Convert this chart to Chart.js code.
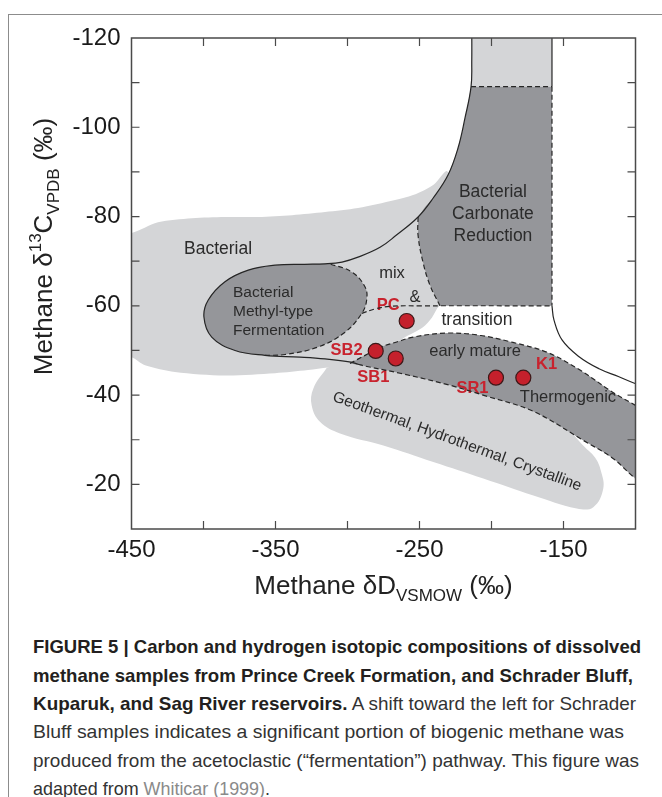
<!DOCTYPE html>
<html>
<head>
<meta charset="utf-8">
<script src="https://cdn.jsdelivr.net/npm/chart.js@4.4.1/dist/chart.umd.min.js"></script>
<style>
  html, body { margin: 0; padding: 0; background: #fff; }
  body { width: 662px; height: 797px; position: relative; overflow: hidden; }
  #frame { position: absolute; left: 8px; top: 14px; width: 720px; height: 820px; border: 1.5px solid #8c8c8c; box-sizing: border-box; }
  #chartBox { position: absolute; left: 0; top: 0; width: 662px; height: 612px; }
  #caption { position: absolute; left: 33px; top: 0; font-family: "Liberation Sans", Arial, Helvetica, sans-serif; font-size: 19px; color: #333; }
  .line { position: absolute; left: 0; white-space: nowrap; transform-origin: 0 50%; line-height: 22px; }
  .line b { color: #231f20; }
  .cite { color: #8a8a8a; }
</style>
</head>
<body>
<div id="frame"></div>
<div id="chartBox"><canvas id="isoChart" width="662" height="612"></canvas></div>
<div id="caption">
  <div class="line" data-w="608" style="top:636px"><b>FIGURE 5 | Carbon and hydrogen isotopic compositions of dissolved</b></div>
  <div class="line" data-w="600" style="top:665px"><b>methane samples from Prince Creek Formation, and Schrader Bluff,</b></div>
  <div class="line" data-w="603" style="top:693px"><b>Kuparuk, and Sag River reservoirs.</b> A shift toward the left for Schrader</div>
  <div class="line" data-w="591" style="top:721px">Bluff samples indicates a significant portion of biogenic methane was</div>
  <div class="line" data-w="606" style="top:750px">produced from the acetoclastic (“fermentation”) pathway. This figure was</div>
  <div class="line" data-w="237" style="top:778px">adapted from <span class="cite">Whiticar (1999)</span>.</div>
</div>
<script>
// axes
const xTicks = [-450, -350, -250, -150];
const yTicks = [-120, -100, -80, -60, -40, -20];
const xTickMarks = [-400, -350, -300, -250, -200, -150];
const yTickMarks = [-110, -100, -90, -80, -70, -60, -50, -40, -30, -20];

// samples (dD, d13C)
const sampleNames = ["PC", "SB2", "SB1", "SR1", "K1"];
const sampleD = [-258.9, -280.4, -266.5, -196.9, -177.9];
const sampleC = [-56.6, -49.9, -48.2, -43.9, -43.9];

// genetic fields, outlines [dD, d13C]
const bacterialField = [[-462, -76.5], [-450, -76.3], [-431.6, -78.7], [-408, -79.6], [-385.1, -79.9], [-362.2, -79.9], [-338.5, -80.3], [-315.6, -81.0], [-292.7, -81.9], [-267, -83.7], [-254.5, -84.8], [-240, -87.2], [-231, -90.2], [-228, -86], [-231, -79], [-233.5, -70], [-235.5, -60.3], [-237.8, -59.4], [-241.3, -57.4], [-247.6, -55.2], [-254.5, -53.9], [-261.5, -52.7], [-270.5, -50.5], [-291.3, -47.4], [-301.7, -46.5], [-313.5, -46.2], [-327.4, -45.6], [-350.3, -44.9], [-385.1, -44.4], [-419.8, -45.2], [-440.6, -46.7], [-450, -48.5], [-462, -48.6]];
const geothermalField = [[-314.4, -46.1], [-323.7, -41.5], [-324.9, -37.7], [-319.1, -34.0], [-305.2, -31.4], [-275.1, -28.7], [-240.4, -25.0], [-205.7, -21.3], [-170.9, -17.5], [-140.8, -14.6], [-129.3, -14.9], [-122.4, -19.0], [-124.0, -23.0], [-128.1, -26.0], [-135.1, -28.3], [-152.4, -34.1], [-171.2, -37.5], [-205.9, -41.1], [-228.8, -43.3], [-263.5, -46.0], [-298.3, -47.8]];
const carbonateCap = [[-213.7, -122], [-158, -122], [-158, -109.1], [-214.2, -109.1]];
const carbonateField = [[-214.2, -109.1], [-158, -109.1], [-158, -60], [-235.8, -60], [-239.5, -62.5], [-242.7, -64.6], [-245.5, -67.3], [-247.6, -69.8], [-249.8, -73.0], [-251, -75.8], [-251, -79.9], [-246, -82.2], [-240.6, -84.1], [-235, -86.6], [-230.2, -89.3], [-226.5, -92.2], [-223.3, -95.3], [-220.5, -98.7], [-218.4, -102.1], [-216, -105.8]];
const fermentationField = [[-313.5, -69.5], [-350.3, -69.1], [-368.9, -68.0], [-385.1, -65.4], [-396.7, -61.3], [-399.7, -57.5], [-394.3, -53.0], [-378.1, -50.0], [-357.3, -48.9], [-343.4, -49.1], [-320.3, -50.8], [-301.7, -54.1], [-290.1, -58.3], [-286.7, -61.3], [-287.8, -64.2], [-297.1, -67.6], [-313.5, -69.5]];
const thermogenicField = [[-298.3, -47.1], [-287.8, -48.9], [-277.4, -50.7], [-265.8, -51.9], [-254.5, -53.0], [-230.9, -53.9], [-208, -53.4], [-185.1, -51.8], [-161.5, -49.6], [-138.5, -45.6], [-115.6, -40.6], [-100, -37.7], [-88, -35.5], [-88, -19], [-100, -21.3], [-115.6, -25.8], [-136.5, -29.9], [-171.2, -36.4], [-205.9, -40.0], [-228.8, -42.2], [-263.5, -44.9], [-287.8, -46.5]];

// boundary lines
const solidLeft = [[-213.7, -122], [-213.7, -115], [-214.2, -109.1], [-218.4, -102.1], [-223.3, -95.3], [-230.2, -89.3], [-240.6, -84.1], [-251, -79.9], [-266.2, -75.8], [-277.4, -73.1], [-292.7, -70.9], [-303.8, -69.8], [-315.6, -69.4], [-330, -69.3], [-350.3, -69.1], [-368.9, -68.0], [-385.1, -65.4], [-396.7, -61.3], [-399.7, -57.5], [-394.3, -53.0], [-378.1, -50.0], [-357.3, -48.9], [-333, -48.5], [-315.6, -48.1], [-297.6, -47.4], [-292.7, -46.9]];
const solidCapRight = [[-158, -122], [-158, -109.1]];
const solidRight = [[-158, -60], [-156.6, -56.8], [-150.9, -52.3], [-139.2, -48.6], [-125.3, -45.9], [-111.5, -44.1], [-100.3, -42.6], [-88, -41.3]];
const dashCapBase = [[-214.2, -109.1], [-158, -109.1]];
const dashCapRight = [[-158, -109.1], [-158, -60]];
const dashCarbonate = [[-251, -79.9], [-251, -75.8], [-247.6, -69.8], [-242.7, -64.6], [-235.8, -60]];
const dashSixty = [[-290.1, -58.3], [-280.9, -59.3], [-270.5, -59.9], [-250, -60], [-158, -60]];
const dashFermentation = [[-357.3, -48.9], [-343.4, -49.1], [-320.3, -50.8], [-301.7, -54.1], [-290.1, -58.3], [-286.7, -61.3], [-287.8, -64.2], [-297.1, -67.6], [-313.5, -69.5]];
const dashThermoTop = [[-298.3, -47.1], [-287.8, -48.9], [-277.4, -50.7], [-265.8, -51.9], [-254.5, -53.0], [-230.9, -53.9], [-208, -53.4], [-185.1, -51.8], [-161.5, -49.6], [-138.5, -45.6], [-115.6, -40.6], [-100, -37.7], [-88, -35.5]];
const dashThermoBottom = [[-292.7, -46.9], [-287.8, -46.5], [-263.5, -44.9], [-228.8, -42.2], [-205.9, -40.0], [-171.2, -36.4], [-136.5, -29.9], [-115.6, -25.8], [-100, -21.3], [-88, -19]];

const FONT = '"Liberation Sans", Arial, Helvetica, sans-serif';
const LIGHT = "#d4d5d7";
const DARK = "#95969a";
const INK = "#262626";

const regionLabels = [
  { text: "Bacterial", x: -389.9, y: -72.7, size: 17.5 },
  { text: "Bacterial\nMethyl-type\nFermentation", x: -379.5, y: -58.7, size: 15.5, lh: 18.7, align: "left" },
  { text: "mix", x: -269.1, y: -67.3, size: 16.5 },
  { text: "&", x: -253.1, y: -61.9, size: 16.5 },
  { text: "transition", x: -210.1, y: -56.8, size: 17.5 },
  { text: "Bacterial\nCarbonate\nReduction", x: -199, y: -80.5, size: 17.5, lh: 22.2 },
  { text: "early mature", x: -211.4, y: -49.7, size: 16.5 },
  { text: "Thermogenic", x: -146.9, y: -39.4, size: 16.5 },
  { text: "Geothermal, Hydrothermal, Crystalline", x: -223.9, y: -29.6, size: 15.5, rot: 20 }
];
const sampleLabelPos = [[-271.7, -60.0], [-300.6, -49.9], [-282.1, -43.9], [-213.2, -41.5], [-161.7, -46.9]];

const pts = a => a.map(([x, y]) => ({ x, y }));

const area = (label, data, color, order, tension) => ({
  label, data: pts(data), order, tension,
  fill: "shape", backgroundColor: color, borderWidth: 0, pointRadius: 0
});
const edge = (label, data, order, dash, tension = 0.4) => ({
  label, data: pts(data), order, tension,
  fill: false, borderColor: INK, borderWidth: 1.2, borderDash: dash, pointRadius: 0
});

const drawRich = (ctx, parts, cx, cy) => {
  let w = 0;
  parts.forEach(p => {
    ctx.font = `${p.s}px ${FONT}`;
    p.w = ctx.measureText(p.t).width;
    w += p.w;
  });
  let x = cx - w / 2;
  parts.forEach(p => {
    ctx.font = `${p.s}px ${FONT}`;
    ctx.fillText(p.t, x, cy + (p.dy || 0));
    x += p.w;
  });
};

const decor = {
  id: "decor",
  afterDatasetDraw(chart, args) {
    if (args.meta.label !== "Thermogenic") return;
    const { ctx, scales: { x, y } } = chart;
    ctx.save();
    ctx.fillStyle = "#2b2b2b";
    ctx.textBaseline = "middle";
    regionLabels.forEach(l => {
      ctx.save();
      ctx.translate(x.getPixelForValue(l.x), y.getPixelForValue(l.y));
      if (l.rot) ctx.rotate((l.rot * Math.PI) / 180);
      ctx.font = `${l.size}px ${FONT}`;
      ctx.textAlign = l.align || "center";
      const rows = l.text.split("\n");
      rows.forEach((s, i) => ctx.fillText(s, 0, (i - (rows.length - 1) / 2) * (l.lh || 0)));
      ctx.restore();
    });
    ctx.fillStyle = "#c8232e";
    ctx.font = `bold 16.5px ${FONT}`;
    ctx.textAlign = "center";
    sampleNames.forEach((n, i) => {
      ctx.fillText(n, x.getPixelForValue(sampleLabelPos[i][0]), y.getPixelForValue(sampleLabelPos[i][1]));
    });
    ctx.restore();
  },
  afterDatasetsDraw(chart) {
    const { ctx, chartArea: a, scales: { x, y } } = chart;
    ctx.save();
    ctx.strokeStyle = "#4a4a4a";
    ctx.lineWidth = 1.5;
    ctx.strokeRect(a.left, a.top, a.right - a.left, a.bottom - a.top);
    ctx.lineWidth = 1.2;
    ctx.beginPath();
    xTickMarks.forEach(v => {
      const px = x.getPixelForValue(v);
      ctx.moveTo(px, a.bottom); ctx.lineTo(px, a.bottom - 8);
      ctx.moveTo(px, a.top); ctx.lineTo(px, a.top + 8);
    });
    yTickMarks.forEach(v => {
      const py = y.getPixelForValue(v);
      ctx.moveTo(a.left, py); ctx.lineTo(a.left + 8, py);
      ctx.moveTo(a.right, py); ctx.lineTo(a.right - 8, py);
    });
    ctx.stroke();
    ctx.restore();
  },
  afterDraw(chart) {
    const { ctx, chartArea: a } = chart;
    ctx.save();
    ctx.fillStyle = "#222";
    ctx.textAlign = "left";
    ctx.textBaseline = "alphabetic";
    drawRich(ctx, [{ t: "Methane δD", s: 26 }, { t: "VSMOW", s: 17, dy: 7 }, { t: " (‰)", s: 26 }], (a.left + a.right) / 2, 594);
    ctx.translate(52, 246.5);
    ctx.rotate(-Math.PI / 2);
    drawRich(ctx, [{ t: "Methane δ", s: 26 }, { t: "13", s: 17, dy: -11 }, { t: "C", s: 26 }, { t: "VPDB", s: 17, dy: 7 }, { t: " (‰)", s: 26 }], 0, 0);
    ctx.restore();
  }
};

new Chart(document.getElementById("isoChart"), {
  type: "line",
  data: {
    datasets: [
      area("Bacterial", bacterialField, LIGHT, 30, 0.3),
      area("Geothermal", geothermalField, LIGHT, 29, 0.4),
      area("Cap", carbonateCap, LIGHT, 28, 0),
      area("Carbonate", carbonateField, DARK, 27, 0),
      area("Fermentation", fermentationField, DARK, 26, 0.4),
      area("Thermogenic", thermogenicField, DARK, 25, 0.35),
      edge("solidLeft", solidLeft, 10, []),
      edge("solidCapRight", solidCapRight, 10, [], 0),
      edge("solidRight", solidRight, 10, []),
      edge("dashCapBase", dashCapBase, 11, [5, 3], 0),
      edge("dashCapRight", dashCapRight, 11, [5, 3], 0),
      edge("dashCarbonate", dashCarbonate, 11, [5, 3]),
      edge("dashSixty", dashSixty, 11, [5, 3]),
      edge("dashFermentation", dashFermentation, 11, [5, 3]),
      edge("dashThermoTop", dashThermoTop, 11, [5, 3], 0.35),
      edge("dashThermoBottom", dashThermoBottom, 11, [5, 3], 0.35),
      {
        label: "Samples",
        data: sampleD.map((x, i) => ({ x, y: sampleC[i] })),
        showLine: false,
        order: 0,
        pointRadius: 7.5,
        pointBackgroundColor: "#c5202c",
        pointBorderColor: "#3d1818",
        pointBorderWidth: 1.2
      }
    ]
  },
  options: {
    responsive: false,
    animation: false,
    events: [],
    layout: { padding: { left: 0, right: 26.5, top: 38, bottom: 43 } },
    plugins: { legend: { display: false }, tooltip: { enabled: false } },
    scales: {
      x: {
        type: "linear",
        min: -450,
        max: -100,
        afterBuildTicks: s => { s.ticks = xTicks.map(v => ({ value: v })); },
        afterFit: s => { s.height = 40; },
        grid: { display: false, drawTicks: false },
        border: { display: false },
        ticks: { padding: 7, color: "#1a1a1a", font: { family: FONT, size: 24 }, maxRotation: 0 }
      },
      y: {
        type: "linear",
        min: -120,
        max: -10,
        reverse: true,
        afterBuildTicks: s => { s.ticks = yTicks.map(v => ({ value: v })); },
        afterFit: s => { s.width = 131.5; },
        grid: { display: false, drawTicks: false },
        border: { display: false },
        ticks: { padding: 11, color: "#1a1a1a", font: { family: FONT, size: 24 } }
      }
    }
  },
  plugins: [decor]
});

document.querySelectorAll("#caption .line").forEach(el => {
  const w = el.getBoundingClientRect().width;
  el.style.transform = `scaleX(${Number(el.dataset.w) / w})`;
});
</script>
</body>
</html>
